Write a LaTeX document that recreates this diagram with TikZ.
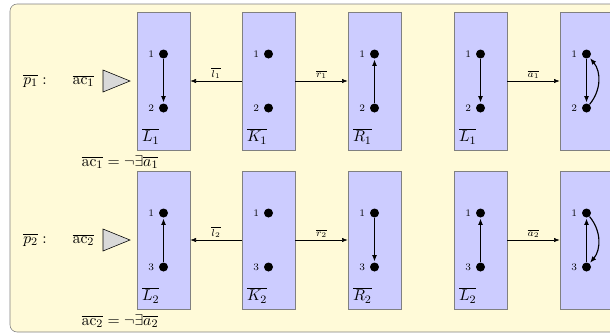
\documentclass[tikz,border=0pt]{standalone}
\usetikzlibrary{arrows.meta}
\definecolor{bgyellow}{RGB}{255,250,216}
\definecolor{boxblue}{RGB}{204,204,255}
\begin{document}
\begin{tikzpicture}[x=0.7pt,y=-0.7pt,
  graphbox/.style={draw=gray, fill=boxblue, minimum width=37.1pt, minimum height=96.6pt, inner sep=0pt},
  vtx/.style={circle, fill=black, minimum size=6.3pt, inner sep=0pt},
  vlab/.style={font=\scriptsize, inner sep=1pt},
  edg/.style={-{Latex[length=4.5pt,width=3.5pt]}, thick, shorten >=0.5pt},
  mor/.style={-{Latex[length=4pt,width=3pt]}},
  mlab/.style={font=\scriptsize, above, inner sep=1.5pt},
  txt/.style={font=\fontsize{11pt}{13pt}\selectfont},
  blab/.style={txt, anchor=south west, inner xsep=3.5pt, inner ysep=4pt}
]
\clip (0,0) rectangle (610,333);
\useasboundingbox (0,0) rectangle (610,333);
\fill[bgyellow, draw=gray, rounded corners=5pt] (10,4) rectangle (640,332);

% ---------- row 1 ----------
\node[graphbox] (L1) at (163.5,81) {};
\node[graphbox] (K1) at (268.5,81) {};
\node[graphbox] (R1) at (374.5,81) {};
\node[graphbox] (L1b) at (480.5,81) {};
\node[graphbox] (A1) at (586.5,81) {};

\foreach \b/\x in {L1/163.5,K1/268.5,R1/374.5,L1b/480.5,A1/586.5}{
  \node[vtx, label={[vlab,label distance=2pt]left:1}] (\b-1) at (\x,54) {};
  \node[vtx, label={[vlab,label distance=2pt]left:2}] (\b-2) at (\x,108) {};
}
\node[blab] at (L1.south west) {$\overline{L_1}$};
\node[blab] at (K1.south west) {$\overline{K_1}$};
\node[blab] at (R1.south west) {$\overline{R_1}$};
\node[blab] at (L1b.south west) {$\overline{L_1}$};

\draw[edg] (L1-1) -- (L1-2);
\draw[edg] (R1-2) -- (R1-1);
\draw[edg] (L1b-1) -- (L1b-2);
\draw[edg] (A1-1) -- (A1-2);
\draw[edg] (A1-2) to[bend right=40] (A1-1);

\draw[mor] (K1.west) -- node[mlab] {$\overline{l_1}$} (L1.east);
\draw[mor] (K1.east) -- node[mlab] {$\overline{r_1}$} (R1.west);
\draw[mor] (L1b.east) -- node[mlab] {$\overline{a_1}$} (A1.west);

\node[txt] (p1) at (35,81) {$\overline{p_1}:$};
\node[txt] (ac1) at (83.5,81) {$\overline{\mathrm{ac}_1}$};
\draw[fill=gray!30] (103,70) -- (130,81) -- (103,92) -- cycle;
\node[txt] (c1) at (120,162) {$\overline{\mathrm{ac}_1}=\neg\exists\overline{a_1}$};

% ---------- row 2 ----------
\node[graphbox] (L2) at (163.5,240) {};
\node[graphbox] (K2) at (268.5,240) {};
\node[graphbox] (R2) at (374.5,240) {};
\node[graphbox] (L2b) at (480.5,240) {};
\node[graphbox] (A2) at (586.5,240) {};

\foreach \b/\x in {L2/163.5,K2/268.5,R2/374.5,L2b/480.5,A2/586.5}{
  \node[vtx, label={[vlab,label distance=2pt]left:1}] (\b-1) at (\x,213) {};
  \node[vtx, label={[vlab,label distance=2pt]left:3}] (\b-3) at (\x,267) {};
}
\node[blab] at (L2.south west) {$\overline{L_2}$};
\node[blab] at (K2.south west) {$\overline{K_2}$};
\node[blab] at (R2.south west) {$\overline{R_2}$};
\node[blab] at (L2b.south west) {$\overline{L_2}$};

\draw[edg] (L2-3) -- (L2-1);
\draw[edg] (R2-1) -- (R2-3);
\draw[edg] (L2b-3) -- (L2b-1);
\draw[edg] (A2-3) -- (A2-1);
\draw[edg] (A2-1) to[bend left=40] (A2-3);

\draw[mor] (K2.west) -- node[mlab] {$\overline{l_2}$} (L2.east);
\draw[mor] (K2.east) -- node[mlab] {$\overline{r_2}$} (R2.west);
\draw[mor] (L2b.east) -- node[mlab] {$\overline{a_2}$} (A2.west);

\node[txt] (p2) at (35,240) {$\overline{p_2}:$};
\node[txt] (ac2) at (83.5,240) {$\overline{\mathrm{ac}_2}$};
\draw[fill=gray!30] (103,229) -- (130,240) -- (103,251) -- cycle;
\node[txt] (c2) at (120,321) {$\overline{\mathrm{ac}_2}=\neg\exists\overline{a_2}$};
\end{tikzpicture}
\end{document}
